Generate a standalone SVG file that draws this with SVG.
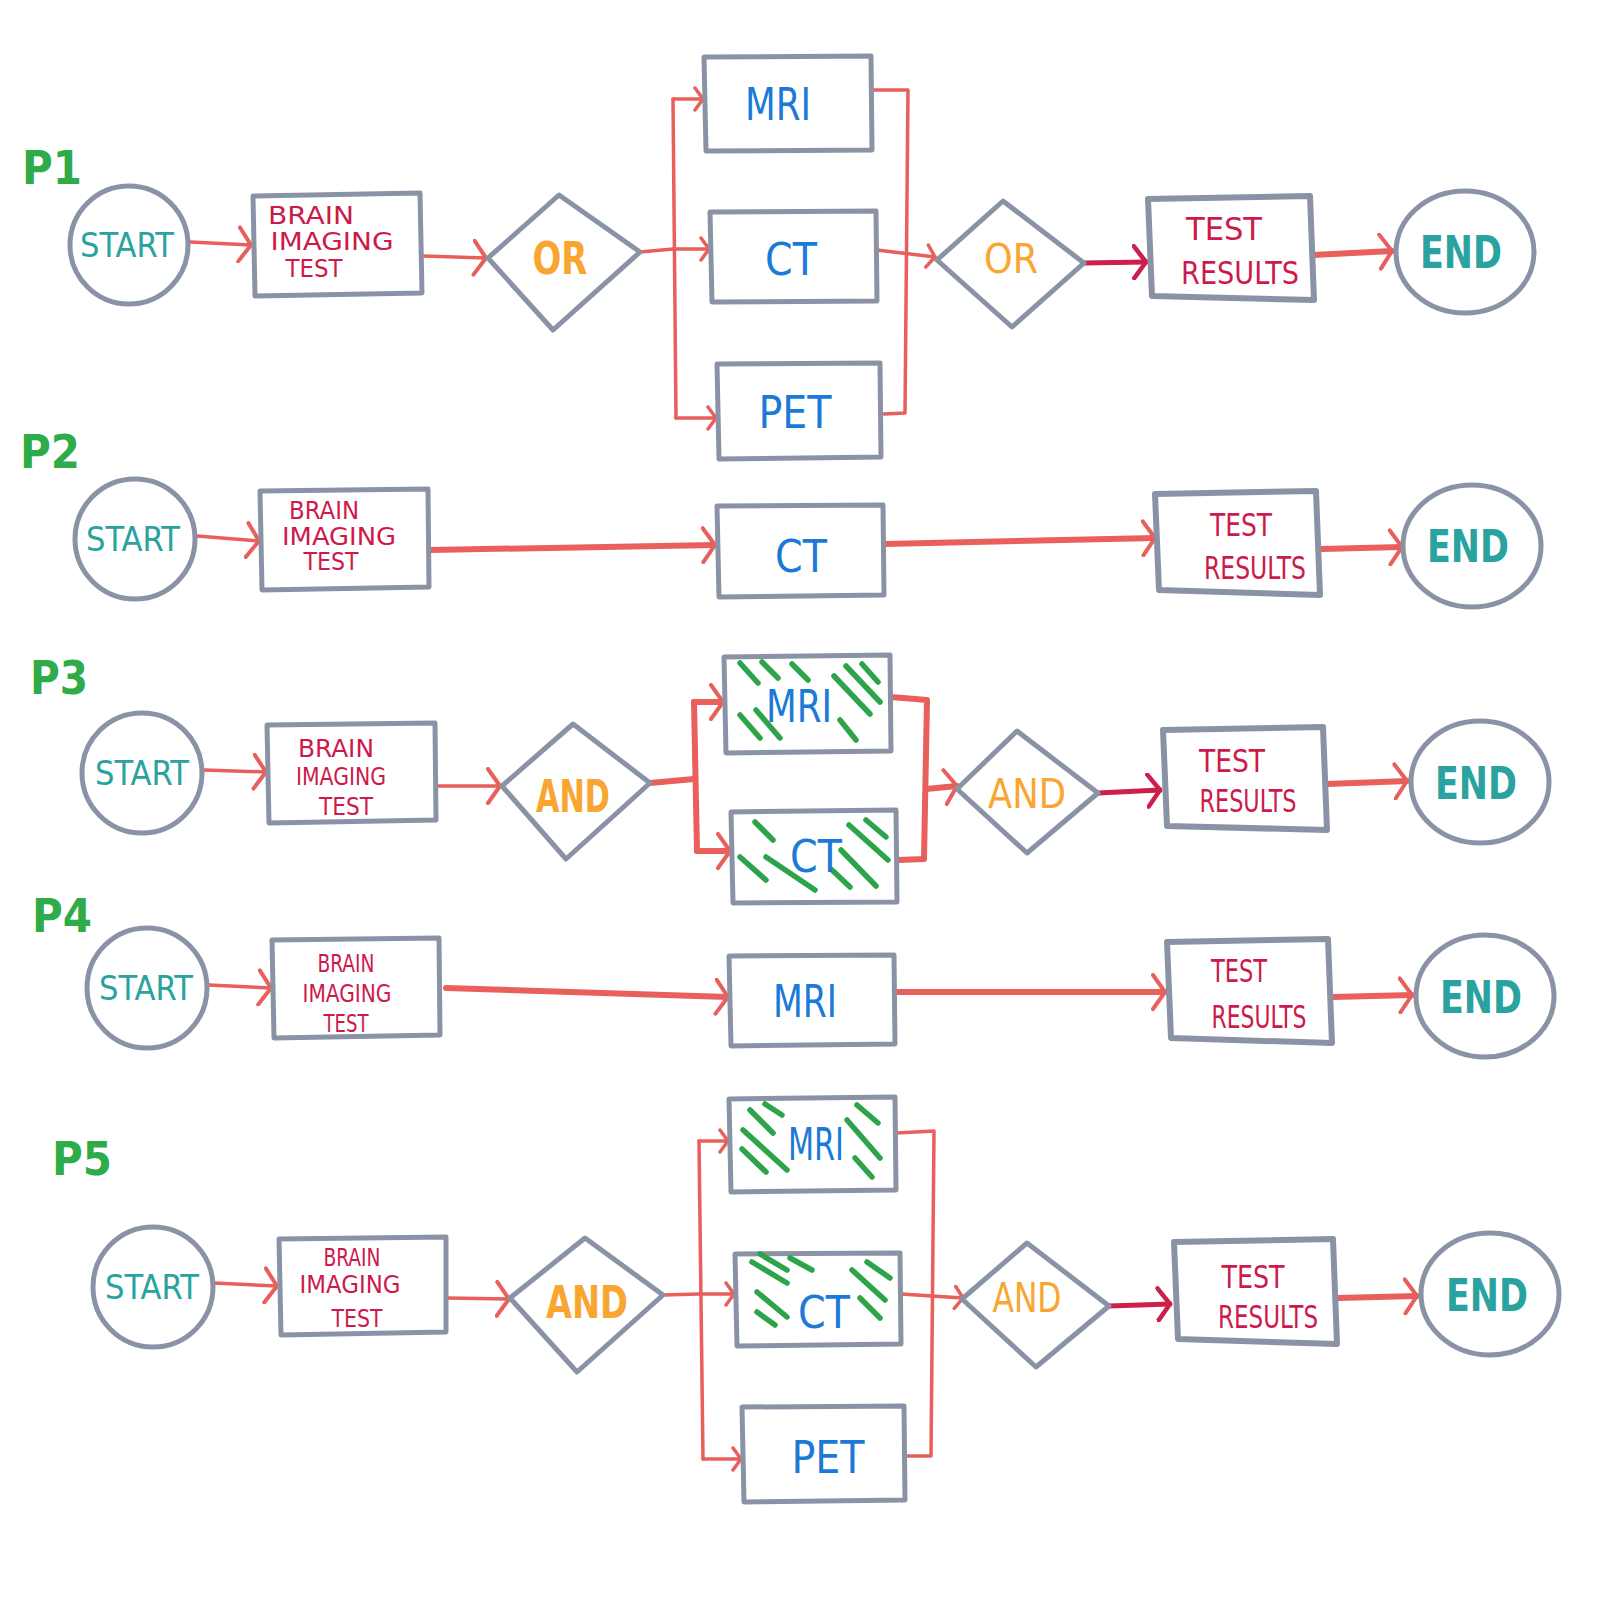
<svg xmlns="http://www.w3.org/2000/svg" width="1600" height="1600" viewBox="0 0 1600 1600">
<style>
text{font-family:"DejaVu Sans Condensed","Liberation Sans Narrow","Liberation Sans",sans-serif;text-anchor:middle}
.node{fill:#fff;stroke:#8a93a5;stroke-width:5;stroke-linejoin:round}
.tr{fill:#fff;stroke:#8a93a5;stroke-width:6;stroke-linejoin:round}
.c{fill:none;stroke:#e85f5c;stroke-width:3.5;stroke-linecap:round;stroke-linejoin:round}
.ct{fill:none;stroke:#e85f5c;stroke-width:6;stroke-linecap:round;stroke-linejoin:round}
.cc{fill:none;stroke:#cc1f4c;stroke-width:5;stroke-linecap:round}
.se{fill:#2aa29f;font-size:34px}
.en{fill:#2aa29f;font-size:44px;font-weight:bold}
.br{fill:#cc1a4a;font-size:24px}
.rs{fill:#cc1a4a;font-size:32px}
.gate{fill:#f9a532;font-size:44px;font-weight:bold}
.gt{fill:#f9a532;font-size:40px}
.test{fill:#1b7ad8;font-size:44px}
.lab{fill:#2fab4a;font-size:46px;font-weight:bold;text-anchor:start}
.h{stroke:#2da34a;stroke-width:5.5;stroke-linecap:round}
</style>
<defs>
<marker id="aR" viewBox="0 0 16 38" refX="14" refY="19" markerWidth="16" markerHeight="38" orient="auto" markerUnits="userSpaceOnUse"><path d="M2,2 L14,19 L2,36" fill="none" stroke="#e85f5c" stroke-width="4" stroke-linecap="round" stroke-linejoin="round"/></marker>
<marker id="aRs" viewBox="0 0 12 26" refX="10" refY="13" markerWidth="12" markerHeight="26" orient="auto" markerUnits="userSpaceOnUse"><path d="M2,2 L10,13 L2,24" fill="none" stroke="#e85f5c" stroke-width="3.5" stroke-linecap="round" stroke-linejoin="round"/></marker>
<marker id="aC" viewBox="0 0 16 36" refX="14" refY="18" markerWidth="16" markerHeight="36" orient="auto" markerUnits="userSpaceOnUse"><path d="M2,2 L14,18 L2,34" fill="none" stroke="#cc1f4c" stroke-width="4.5" stroke-linecap="round" stroke-linejoin="round"/></marker>
</defs>
<rect width="1600" height="1600" fill="#fff"/>

<!-- labels -->
<text class="lab" x="22" y="184" textLength="60" lengthAdjust="spacingAndGlyphs">P1</text>
<text class="lab" x="20" y="468" textLength="60" lengthAdjust="spacingAndGlyphs">P2</text>
<text class="lab" x="30" y="694" textLength="58" lengthAdjust="spacingAndGlyphs">P3</text>
<text class="lab" x="32" y="932" textLength="60" lengthAdjust="spacingAndGlyphs">P4</text>
<text class="lab" x="52" y="1175" textLength="60" lengthAdjust="spacingAndGlyphs">P5</text>

<g id="connectors">
<!-- P1 -->
<path class="c" d="M190,242 L251,245" marker-end="url(#aR)"/>
<path class="c" d="M423,256 L486,258" marker-end="url(#aR)"/>
<path class="c" d="M640,252 L673,249"/>
<path class="c" d="M673,99 L676,418"/>
<path class="c" d="M673,99 L703,99" marker-end="url(#aRs)"/>
<path class="c" d="M673,249 L709,249" marker-end="url(#aRs)"/>
<path class="c" d="M676,418 L716,418" marker-end="url(#aRs)"/>
<path class="c" d="M873,90 L908,90 L905,413 L884,414"/>
<path class="c" d="M877,250 L935,257" marker-end="url(#aRs)"/>
<path class="cc" d="M1084,263 L1146,262" marker-end="url(#aC)"/>
<path class="ct" d="M1313,255 L1392,251" marker-end="url(#aR)"/>
<!-- P2 -->
<path class="c" d="M197,536 L259,541" marker-end="url(#aR)"/>
<path class="ct" d="M430,550 L715,545" marker-end="url(#aR)"/>
<path class="ct" d="M884,544 L1155,538" marker-end="url(#aR)"/>
<path class="ct" d="M1321,549 L1402,547" marker-end="url(#aR)"/>
<!-- P3 -->
<path class="c" d="M204,770 L266,772" marker-end="url(#aR)"/>
<path class="c" d="M437,786 L500,786" marker-end="url(#aR)"/>
<path class="ct" d="M650,783 L694,779"/>
<path class="ct" d="M694,702 L697,851"/>
<path class="ct" d="M694,702 L723,702" marker-end="url(#aR)"/>
<path class="ct" d="M697,851 L730,851" marker-end="url(#aR)"/>
<path class="ct" d="M891,697 L927,700 L924,859 L898,860"/>
<path class="ct" d="M926,789 L957,786" marker-end="url(#aR)"/>
<path class="cc" d="M1098,793 L1160,790" marker-end="url(#aC)"/>
<path class="ct" d="M1327,784 L1407,781" marker-end="url(#aR)"/>
<!-- P4 -->
<path class="c" d="M209,985 L271,988" marker-end="url(#aR)"/>
<path class="ct" d="M446,988 L728,997" marker-end="url(#aR)"/>
<path class="ct" d="M895,992 L1165,992" marker-end="url(#aR)"/>
<path class="ct" d="M1333,997 L1412,995" marker-end="url(#aR)"/>
<!-- P5 -->
<path class="c" d="M214,1283 L277,1286" marker-end="url(#aR)"/>
<path class="c" d="M447,1298 L509,1299" marker-end="url(#aR)"/>
<path class="c" d="M663,1295 L699,1294"/>
<path class="c" d="M699,1141 L703,1459"/>
<path class="c" d="M699,1141 L728,1141" marker-end="url(#aRs)"/>
<path class="c" d="M700,1294 L734,1294" marker-end="url(#aRs)"/>
<path class="c" d="M703,1459 L741,1459" marker-end="url(#aRs)"/>
<path class="c" d="M896,1133 L934,1131 L931,1456 L908,1456"/>
<path class="c" d="M901,1294 L963,1298" marker-end="url(#aRs)"/>
<path class="cc" d="M1109,1306 L1170,1304" marker-end="url(#aC)"/>
<path class="ct" d="M1337,1298 L1417,1296" marker-end="url(#aR)"/>
</g>

<!-- P1 nodes -->
<g id="p1-start"><circle class="node" cx="129" cy="245" r="59"/><text class="se" x="127" y="257" textLength="94" lengthAdjust="spacingAndGlyphs">START</text></g>
<g id="p1-brain"><polygon class="node" points="253,196 420,193 422,293 255,296"/>
<text class="br" x="311" y="224" font-size="20" textLength="86" lengthAdjust="spacingAndGlyphs">BRAIN</text><text class="br" x="332" y="250" font-size="20" textLength="123" lengthAdjust="spacingAndGlyphs">IMAGING</text><text class="br" x="314" y="277" font-size="20" textLength="57" lengthAdjust="spacingAndGlyphs">TEST</text></g>
<g id="p1-or1"><polygon class="node" points="488,258 559,195 640,252 553,330"/><text class="gate" x="560" y="274" textLength="55" lengthAdjust="spacingAndGlyphs">OR</text></g>
<g id="p1-mri"><polygon class="node" points="704,57 871,56 872,150 706,151"/><text class="test" x="778" y="120" font-size="38" textLength="66" lengthAdjust="spacingAndGlyphs">MRI</text></g>
<g id="p1-ct"><polygon class="node" points="710,212 876,211 877,301 712,302"/><text class="test" x="791" y="275">CT</text></g>
<g id="p1-pet"><polygon class="node" points="717,364 880,363 881,457 719,459"/><text class="test" x="795" y="428" font-size="46">PET</text></g>
<g id="p1-or2"><polygon class="node" points="937,260 1003,201 1084,263 1012,327"/><text class="gt" x="1011" y="273" textLength="54" lengthAdjust="spacingAndGlyphs">OR</text></g>
<g id="p1-results"><polygon class="tr" points="1148,199 1310,196 1314,300 1152,296"/>
<text class="rs" x="1224" y="240" textLength="76" lengthAdjust="spacingAndGlyphs">TEST</text><text class="rs" x="1240" y="284" font-size="34" textLength="118" lengthAdjust="spacingAndGlyphs">RESULTS</text></g>
<g id="p1-end"><ellipse class="node" cx="1465" cy="252" rx="69" ry="61" stroke-width="7"/><text class="en" x="1461" y="268" textLength="82" lengthAdjust="spacingAndGlyphs">END</text></g>

<!-- P2 nodes -->
<g id="p2-start"><circle class="node" cx="135" cy="539" r="60"/><text class="se" x="133" y="551" textLength="94" lengthAdjust="spacingAndGlyphs">START</text></g>
<g id="p2-brain"><polygon class="node" points="260,491 428,489 429,587 262,590"/>
<text class="br" x="324" y="519" font-size="20" textLength="70" lengthAdjust="spacingAndGlyphs">BRAIN</text><text class="br" x="339" y="545" font-size="20" textLength="114" lengthAdjust="spacingAndGlyphs">IMAGING</text><text class="br" x="331" y="570" font-size="20" textLength="55" lengthAdjust="spacingAndGlyphs">TEST</text></g>
<g id="p2-ct"><polygon class="node" points="717,506 883,505 884,595 719,597"/><text class="test" x="801" y="572">CT</text></g>
<g id="p2-results"><polygon class="tr" points="1155,494 1316,491 1320,595 1159,590"/>
<text class="rs" x="1241" y="536" textLength="62" lengthAdjust="spacingAndGlyphs">TEST</text><text class="rs" x="1255" y="579" textLength="102" lengthAdjust="spacingAndGlyphs">RESULTS</text></g>
<g id="p2-end"><ellipse class="node" cx="1472" cy="546" rx="69" ry="61" stroke-width="7"/><text class="en" x="1468" y="562" textLength="82" lengthAdjust="spacingAndGlyphs">END</text></g>

<!-- P3 nodes -->
<g id="p3-start"><circle class="node" cx="142" cy="773" r="60"/><text class="se" x="142" y="785" textLength="94" lengthAdjust="spacingAndGlyphs">START</text></g>
<g id="p3-brain"><polygon class="node" points="267,725 435,723 436,820 269,823"/>
<text class="br" x="336" y="757" font-size="26" textLength="76" lengthAdjust="spacingAndGlyphs">BRAIN</text><text class="br" x="341" y="785" font-size="24" textLength="90" lengthAdjust="spacingAndGlyphs">IMAGING</text><text class="br" x="346" y="815" font-size="27" textLength="54" lengthAdjust="spacingAndGlyphs">TEST</text></g>
<g id="p3-and1"><polygon class="node" points="502,786 573,724 650,783 566,859"/><text class="gate" x="573" y="812" font-size="46" textLength="74" lengthAdjust="spacingAndGlyphs">AND</text></g>
<g id="p3-mri"><polygon class="node" points="724,657 890,655 891,751 726,753"/>
<line class="h" x1="740" y1="663" x2="758" y2="683"/><line class="h" x1="762" y1="662" x2="778" y2="678"/><line class="h" x1="792" y1="664" x2="808" y2="680"/>
<line class="h" x1="740" y1="715" x2="760" y2="738"/><line class="h" x1="756" y1="710" x2="780" y2="738"/>
<line class="h" x1="834" y1="676" x2="870" y2="714"/><line class="h" x1="846" y1="666" x2="880" y2="702"/><line class="h" x1="862" y1="664" x2="878" y2="682"/><line class="h" x1="840" y1="720" x2="856" y2="740"/>
<text class="test" x="799" y="722" font-size="42" textLength="66" lengthAdjust="spacingAndGlyphs">MRI</text></g>
<g id="p3-ct"><polygon class="node" points="731,812 896,810 897,902 733,903"/>
<line class="h" x1="755" y1="822" x2="773" y2="840"/><line class="h" x1="740" y1="857" x2="766" y2="880"/><line class="h" x1="766" y1="857" x2="815" y2="890"/>
<line class="h" x1="832" y1="870" x2="850" y2="887"/><line class="h" x1="849" y1="825" x2="888" y2="860"/><line class="h" x1="866" y1="820" x2="886" y2="837"/><line class="h" x1="841" y1="850" x2="876" y2="886"/>
<text class="test" x="816" y="872">CT</text></g>
<g id="p3-and2"><polygon class="node" points="957,789 1017,731 1098,793 1027,853"/><text class="gt" x="1027" y="808" textLength="78" lengthAdjust="spacingAndGlyphs">AND</text></g>
<g id="p3-results"><polygon class="tr" points="1163,730 1323,727 1327,830 1167,826"/>
<text class="rs" x="1232" y="772" textLength="66" lengthAdjust="spacingAndGlyphs">TEST</text><text class="rs" x="1248" y="812" textLength="97" lengthAdjust="spacingAndGlyphs">RESULTS</text></g>
<g id="p3-end"><ellipse class="node" cx="1480" cy="782" rx="69" ry="61" stroke-width="7"/><text class="en" x="1476" y="799" textLength="82" lengthAdjust="spacingAndGlyphs">END</text></g>

<!-- P4 nodes -->
<g id="p4-start"><circle class="node" cx="147" cy="988" r="60"/><text class="se" x="146" y="1000" textLength="94" lengthAdjust="spacingAndGlyphs">START</text></g>
<g id="p4-brain"><polygon class="node" points="272,940 439,938 440,1035 274,1038"/>
<text class="br" x="346" y="972" font-size="25" textLength="57" lengthAdjust="spacingAndGlyphs">BRAIN</text><text class="br" x="347" y="1002" font-size="25" textLength="89" lengthAdjust="spacingAndGlyphs">IMAGING</text><text class="br" x="346" y="1032" font-size="25" textLength="45" lengthAdjust="spacingAndGlyphs">TEST</text></g>
<g id="p4-mri"><polygon class="node" points="729,956 894,955 895,1044 731,1046"/><text class="test" x="805" y="1017" textLength="64" lengthAdjust="spacingAndGlyphs">MRI</text></g>
<g id="p4-results"><polygon class="tr" points="1167,942 1328,939 1332,1043 1171,1038"/>
<text class="rs" x="1239" y="982" textLength="56" lengthAdjust="spacingAndGlyphs">TEST</text><text class="rs" x="1259" y="1028" textLength="95" lengthAdjust="spacingAndGlyphs">RESULTS</text></g>
<g id="p4-end"><ellipse class="node" cx="1485" cy="996" rx="69" ry="61" stroke-width="7"/><text class="en" x="1481" y="1013" textLength="82" lengthAdjust="spacingAndGlyphs">END</text></g>

<!-- P5 nodes -->
<g id="p5-start"><circle class="node" cx="153" cy="1287" r="60"/><text class="se" x="152" y="1299" textLength="94" lengthAdjust="spacingAndGlyphs">START</text></g>
<g id="p5-brain"><polygon class="node" points="279,1239 446,1237 446,1332 281,1335"/>
<text class="br" x="352" y="1266" font-size="24" textLength="57" lengthAdjust="spacingAndGlyphs">BRAIN</text><text class="br" x="350" y="1293" font-size="24" textLength="101" lengthAdjust="spacingAndGlyphs">IMAGING</text><text class="br" x="357" y="1327" font-size="28" textLength="51" lengthAdjust="spacingAndGlyphs">TEST</text></g>
<g id="p5-and1"><polygon class="node" points="510,1298 585,1238 663,1295 577,1372"/><text class="gate" x="587" y="1318" font-size="46" textLength="82" lengthAdjust="spacingAndGlyphs">AND</text></g>
<g id="p5-mri"><polygon class="node" points="729,1099 895,1097 896,1190 731,1192"/>
<line class="h" x1="750" y1="1110" x2="773" y2="1133"/><line class="h" x1="765" y1="1104" x2="782" y2="1115"/><line class="h" x1="743" y1="1130" x2="787" y2="1170"/><line class="h" x1="742" y1="1149" x2="766" y2="1172"/>
<line class="h" x1="847" y1="1120" x2="880" y2="1158"/><line class="h" x1="857" y1="1105" x2="878" y2="1123"/><line class="h" x1="855" y1="1158" x2="872" y2="1177"/>
<text class="test" x="816" y="1160" font-size="40" textLength="56" lengthAdjust="spacingAndGlyphs">MRI</text></g>
<g id="p5-ct"><polygon class="node" points="735,1254 900,1253 901,1344 737,1346"/>
<line class="h" x1="752" y1="1262" x2="787" y2="1283"/><line class="h" x1="760" y1="1254" x2="787" y2="1270"/><line class="h" x1="790" y1="1258" x2="812" y2="1270"/>
<line class="h" x1="757" y1="1292" x2="787" y2="1317"/><line class="h" x1="757" y1="1312" x2="775" y2="1325"/>
<line class="h" x1="852" y1="1270" x2="885" y2="1300"/><line class="h" x1="867" y1="1262" x2="890" y2="1278"/><line class="h" x1="860" y1="1298" x2="880" y2="1318"/>
<text class="test" x="824" y="1328" font-size="48">CT</text></g>
<g id="p5-pet"><polygon class="node" points="742,1407 904,1406 905,1500 744,1502"/><text class="test" x="828" y="1473" font-size="50">PET</text></g>
<g id="p5-and2"><polygon class="node" points="962,1299 1027,1243 1109,1306 1036,1367"/><text class="gt" x="1027" y="1312" textLength="69" lengthAdjust="spacingAndGlyphs">AND</text></g>
<g id="p5-results"><polygon class="tr" points="1174,1242 1333,1239 1337,1344 1178,1339"/>
<text class="rs" x="1253" y="1288" textLength="63" lengthAdjust="spacingAndGlyphs">TEST</text><text class="rs" x="1268" y="1328" textLength="100" lengthAdjust="spacingAndGlyphs">RESULTS</text></g>
<g id="p5-end"><ellipse class="node" cx="1490" cy="1294" rx="69" ry="61" stroke-width="7"/><text class="en" x="1487" y="1311" textLength="82" lengthAdjust="spacingAndGlyphs">END</text></g>
</svg>
